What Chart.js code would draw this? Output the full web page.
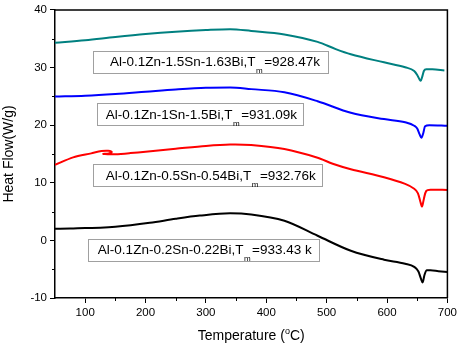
<html>

<head>
    <title>
        DSC heat flow
    </title>
    <script src="https://cdn.jsdelivr.net/npm/chart.js"></script>
    <style>
        body {
            margin: 0;
            background: #fff;
        }

        #wrap {
            width: 460px;
            height: 343px;
        }
    </style>
</head>

<body>
    <div id="wrap"><canvas id="myChart" width="460" height="343"></canvas></div>

    <script>
        const FONT = '"Liberation Sans", Arial, sans-serif'

        // temperature in C, heat flow in W/g
        const tealTemp = [50, 100, 150, 200, 250, 300, 340, 375, 430, 485, 515, 540, 595, 630, 645, 650, 654, 656, 658, 661, 665, 675, 695]
        const tealFlow = [34.3, 34.75, 35.3, 35.8, 36.2, 36.5, 36.65, 36.35, 35.75, 34.45, 33.2, 32.3, 30.9, 30.05, 29.4, 28.7, 27.9, 27.7, 28.3, 29.4, 29.7, 29.7, 29.5]

        const blueTemp = [50, 100, 150, 200, 250, 300, 340, 375, 430, 485, 540, 595, 630, 645, 650, 654, 657, 660, 663, 670, 700]
        const blueFlow = [24.95, 25.1, 25.4, 25.8, 26.2, 26.5, 26.55, 26.25, 25.7, 24.15, 22.15, 21.05, 20.5, 19.9, 19.4, 18.4, 17.8, 18.6, 19.8, 20.0, 19.9]

        // the red run has a small curl near 140 C, so x goes back a little there
        const redTemp = [50, 80, 110, 127, 138, 144, 139, 130, 137, 150, 175, 200, 250, 300, 340, 375, 430, 485, 510, 540, 595, 630, 645, 651, 655, 658, 661, 665, 672, 700]
        const redFlow = [13.1, 14.4, 15.1, 15.5, 15.55, 15.35, 15.08, 15.0, 14.95, 14.95, 15.15, 15.4, 15.9, 16.4, 16.65, 16.55, 15.85, 14.35, 13.3, 12.35, 10.95, 9.8, 8.95, 8.2, 6.8, 5.9, 7.2, 8.6, 8.8, 8.75]

        const blackTemp = [50, 75, 100, 125, 150, 207, 250, 290, 340, 375, 430, 485, 540, 595, 630, 645, 652, 656, 659, 662, 666, 672, 685, 700]
        const blackFlow = [2.0, 2.05, 2.15, 2.2, 2.35, 3.05, 3.75, 4.3, 4.7, 4.5, 3.4, 0.8, -1.8, -3.35, -4.05, -4.6, -5.4, -6.6, -7.3, -6.0, -5.2, -5.2, -5.35, -5.5]

        const alloys = ['Al-0.1Zn-1.5Sn-1.63Bi,T', 'Al-0.1Zn-1Sn-1.5Bi,T', 'Al-0.1Zn-0.5Sn-0.54Bi,T', 'Al-0.1Zn-0.2Sn-0.22Bi,T']
        const meltTemps = ['=928.47k', '=931.09k', '=932.76k', '=933.43 k']

        const xTicks = [100, 200, 300, 400, 500, 600, 700]
        const xMinor = [150, 250, 350, 450, 550, 650]
        const yMinor = [-5, 5, 15, 25, 35]

        // label boxes in data units: left, right, text start, middle
        const boxPos = [
            { x0: 113, x1: 503, tx: 141, y: 31.0 },
            { x0: 119.5, x1: 460, tx: 134, y: 21.9 },
            { x0: 113, x1: 492, tx: 134, y: 11.3 },
            { x0: 105, x1: 488, tx: 121, y: -1.6 }
        ]

        function pts(xs, ys) {
            return xs.map((v, i) => ({ x: v, y: ys[i] }))
        }

        const extras = {
            id: 'extras',
            afterDatasetsDraw(chart) {
                const { ctx, chartArea: a, scales: { x, y } } = chart
                ctx.save()

                // top and right frame
                ctx.strokeStyle = '#000'
                ctx.lineWidth = 1.5
                ctx.beginPath()
                ctx.moveTo(a.left, a.top)
                ctx.lineTo(a.right, a.top)
                ctx.lineTo(a.right, a.bottom)
                ctx.stroke()

                // minor ticks
                ctx.lineWidth = 1
                ctx.beginPath()
                xMinor.forEach(v => {
                    const px = Math.round(x.getPixelForValue(v)) + 0.5
                    ctx.moveTo(px, a.bottom)
                    ctx.lineTo(px, a.bottom + 3)
                })
                yMinor.forEach(v => {
                    const py = Math.round(y.getPixelForValue(v)) + 0.5
                    ctx.moveTo(a.left, py)
                    ctx.lineTo(a.left - 3, py)
                })
                ctx.stroke()

                // label boxes
                boxPos.forEach((b, i) => {
                    const left = Math.round(x.getPixelForValue(b.x0)) + 0.5
                    const right = Math.round(x.getPixelForValue(b.x1)) + 0.5
                    const mid = y.getPixelForValue(b.y)
                    const top = Math.round(mid - 11) + 0.5
                    ctx.fillStyle = '#fff'
                    ctx.fillRect(left, top, right - left, 22)
                    ctx.strokeStyle = '#a0a0a0'
                    ctx.lineWidth = 1
                    ctx.strokeRect(left, top, right - left, 22)

                    const base = mid + 4.5
                    let tx = x.getPixelForValue(b.tx)
                    ctx.fillStyle = '#000'
                    ctx.textAlign = 'left'
                    ctx.textBaseline = 'alphabetic'
                    ctx.font = '13.5px ' + FONT
                    ctx.fillText(alloys[i], tx, base)
                    tx += ctx.measureText(alloys[i]).width
                    ctx.font = '8px ' + FONT
                    ctx.fillText('m', tx + 0.5, base + 7)
                    tx += ctx.measureText('m').width + 2
                    ctx.font = '13.5px ' + FONT
                    ctx.fillText(meltTemps[i], tx, base)
                })

                // axis titles
                ctx.fillStyle = '#000'
                ctx.font = '14px ' + FONT
                ctx.save()
                ctx.translate(13, (a.top + a.bottom) / 2)
                ctx.rotate(-Math.PI / 2)
                ctx.textAlign = 'center'
                ctx.textBaseline = 'alphabetic'
                ctx.fillText('Heat Flow(W/g)', 0, 0)
                ctx.restore()

                const p1 = 'Temperature ('
                const p2 = 'o'
                const p3 = 'C)'
                ctx.font = '14px ' + FONT
                const w1 = ctx.measureText(p1).width
                const w3 = ctx.measureText(p3).width
                ctx.font = '9px ' + FONT
                const w2 = ctx.measureText(p2).width
                let sx = (a.left + a.right) / 2 - (w1 + w2 + w3) / 2
                const by = 340
                ctx.textAlign = 'left'
                ctx.font = '14px ' + FONT
                ctx.fillText(p1, sx, by)
                sx += w1
                ctx.font = '9px ' + FONT
                ctx.fillText(p2, sx, by - 6)
                sx += w2
                ctx.font = '14px ' + FONT
                ctx.fillText(p3, sx, by)

                ctx.restore()
            }
        }

        const line = (data, color, smooth) => ({
            data: data,
            showLine: true,
            borderColor: color,
            backgroundColor: color,
            borderWidth: 2,
            pointRadius: 0,
            cubicInterpolationMode: smooth ? 'monotone' : 'default',
            tension: 0.3,
            fill: false
        })

        var ctx = document.getElementById('myChart').getContext('2d')

        var myChart = new Chart(ctx, {
            type: 'scatter',
            data: {
                datasets: [
                    line(pts(tealTemp, tealFlow), '#008080', true),
                    line(pts(blueTemp, blueFlow), '#0000ff', true),
                    line(pts(redTemp, redFlow), '#ff0000', false),
                    line(pts(blackTemp, blackFlow), '#000000', true)
                ]
            },
            options: {
                responsive: false,
                animation: false,
                devicePixelRatio: 1,
                layout: { padding: { top: 9, right: 12, left: 0, bottom: 0 } },
                plugins: {
                    legend: { display: false },
                    tooltip: { enabled: false }
                },
                scales: {
                    x: {
                        type: 'linear',
                        min: 50,
                        max: 700,
                        afterBuildTicks: s => { s.ticks = xTicks.map(v => ({ value: v })) },
                        afterFit: s => { s.height = 45 },
                        border: { color: '#000', width: 1.5 },
                        grid: { drawOnChartArea: false, tickLength: 5, tickColor: '#000', tickWidth: 1 },
                        ticks: { color: '#000', padding: 3, font: { family: FONT, size: 11.5 }, maxRotation: 0 }
                    },
                    y: {
                        type: 'linear',
                        min: -10,
                        max: 40,
                        afterFit: s => { s.width = 55 },
                        border: { color: '#000', width: 1.5 },
                        grid: { drawOnChartArea: false, tickLength: 5, tickColor: '#000', tickWidth: 1 },
                        ticks: { stepSize: 10, color: '#000', padding: 3, font: { family: FONT, size: 11.5 } }
                    }
                }
            },
            plugins: [extras]
        });
    </script>
</body>

</html>
